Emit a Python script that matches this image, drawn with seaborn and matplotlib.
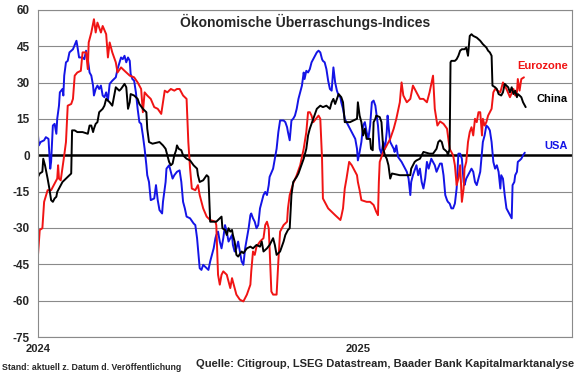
import pandas as pd
import matplotlib
matplotlib.use("Agg")
import matplotlib.pyplot as plt
import seaborn as sns

# Tage seit 01.01.2024 und Indexwerte
usa_days = [0, 1, 3, 7, 9, 12, 14, 15, 17, 19, 21, 22, 24, 25, 28, 29, 30, 32, 34, 36,
            40, 44, 45, 47, 51, 53, 55, 57, 59, 61, 63, 64, 66, 68, 70, 72, 74, 76, 78, 80,
            82, 85, 89, 91, 95, 97, 99, 101, 103, 105, 106, 108, 110, 112, 114, 116, 118, 120, 122, 124,
            125, 127, 129, 133, 135, 137, 139, 142, 143, 146, 147, 150, 152, 154, 156,
            159, 162, 164, 166, 168, 170, 174, 178, 180, 182, 183, 185, 187, 189, 193,
            195, 197, 199, 201, 203, 204, 206, 208, 210, 212, 214, 216, 218, 222, 223,
            225, 227, 229, 231, 233, 235, 237, 239, 241, 243, 244, 246, 248, 250, 252,
            254, 256, 258, 260, 262, 264, 265, 269, 271, 273, 275, 277, 281, 283, 285,
            286, 288, 290, 292, 294, 296, 298, 300, 302, 304, 305, 307, 309, 311,
            313, 317, 319, 321, 323, 325, 326, 328, 330, 332, 334, 336, 338, 340, 342,
            344, 346, 347, 349, 351, 353, 357, 361, 363, 365, 366, 368, 370, 372, 374,
            376, 378, 380, 382, 384, 386, 387, 389, 391, 393, 395, 397, 399, 400, 401,
            403, 407, 408, 410, 412, 416, 420, 422, 424, 426, 427, 429, 433, 435, 437,
            439, 441, 443, 445, 447, 450, 454, 456, 460,
            462, 464, 466, 468, 469, 471, 473, 475, 477, 479, 481, 483, 485, 487, 488,
            490, 492, 494, 496, 498, 500, 502, 504, 506, 508, 509, 511, 513, 515, 517,
            519, 521, 523, 525, 527, 529, 530, 532, 534, 536, 538, 540, 542, 543, 545,
            546, 548, 549, 551, 553, 555, 557]
usa_vals = [8.2, 4.1, 5.5, 6.2, 7.5, 6.8, -5.5, -2.7, 12.3, 13.0, 8.9, 15.1, 20.5, 26.0, 27.4, 24.7, 32.9, 38.4, 39.0, 42.5,
            43.8, 47.3, 45.2, 40.4, 40.4, 39.7, 43.2, 39.7, 34.2, 32.9, 28.8, 24.7, 27.4, 28.8, 27.4, 28.8, 24.7, 24.0, 26.0, 22.6,
            29.5, 30.8, 32.2, 35.6, 40.4, 39.7, 41.1, 38.4, 40.4, 39.0, 33.6, 31.5, 30.8, 26.0, 19.2, 13.7, 13.0, 8.2, 2.7, -4.1,
            -8.2, -11.0, -18.5, -17.8, -12.3, -18.5, -22.6, -24.0, -19.2, -11.0, -5.5, -4.1, -6.8, -9.6, -8.2,
            -6.8, -6.2, -11.0, -19.2, -21.9, -25.3, -26.0, -28.1, -28.8, -34.2, -38.4, -46.6, -47.3, -45.2, -46.6,
            -47.3, -43.8, -41.1, -38.4, -34.2, -32.9, -31.5, -35.6, -38.4, -34.2, -28.8, -31.5, -35.6, -32.9, -37.0,
            -39.7, -38.4, -35.6, -39.7, -43.8, -45.2, -38.4, -34.2, -30.1, -24.7, -24.0, -26.0, -27.4, -30.1, -28.8,
            -21.9, -19.2, -16.4, -15.1, -16.4, -12.3, -8.9, -5.5, -1.4, 2.7, 9.6, 14.4, 14.4, 13.7, 11.6,
            9.6, 6.2, 14.4, 15.1, 16.4, 19.2, 23.3, 26.0, 28.8, 34.2, 31.5, 34.9, 34.2, 35.6,
            38.4, 41.1, 42.5, 43.2, 42.5, 39.7, 39.0, 38.4, 35.6, 30.8, 27.4, 26.7, 36.3, 30.1, 26.7,
            24.7, 24.0, 21.9, 19.2, 15.1, 13.7, 11.0, 8.2, 6.8, 2.7, -2.1, 1.4, 5.5, 12.3, 13.7,
            9.6, 6.8, 12.3, 21.9, 22.6, 20.5, 17.8, 12.3, 2.7, 0.7, 5.5, 2.7, 9.6, 16.4, 12.3,
            5.5, 2.7, 1.4, 4.1, -0.7, -2.7, -5.5, -6.8, -9.6, -16.4, -11.0, -8.2, -4.1, -8.2, -5.5,
            -11.0, -13.7, -9.6, -2.7, -5.5, -1.4, -4.1, -6.8, -3.4,
            -3.4, -8.2, -16.4, -18.5, -19.2, -19.9, -21.9, -21.9, -19.9, -13.7, 0.7, 0.7, -1.4, -11.0, -12.3,
            -9.6, -8.2, -6.8, -5.5, -6.8, -11.0, -12.3, -9.6, -6.8, 1.4, 5.5, 8.2, 12.3, 11.6, 10.3,
            5.5, -2.7, -5.5, -4.1, -6.8, -13.7, -8.2, -9.6, -16.4, -21.9, -23.3, -24.7, -26.0, -12.3, -11.0,
            -8.2, -6.8, -2.7, -2.1, -1.4, 0.0, 1.1]

ez_days = [0, 2, 5, 7, 11, 15, 19, 22, 23, 24, 26, 30, 32, 34, 38, 40, 42, 45, 49, 51,
           55, 57, 58, 61, 64, 66, 68, 72, 74, 78, 80, 82, 85, 89, 91, 95, 99, 105, 110, 114,
           118, 120, 122, 125, 129, 133, 137, 141, 143, 145, 148, 152, 156,
           159, 162, 166, 170, 172, 174, 176, 180, 183, 185, 187, 189, 193, 197, 203,
           204, 206, 208, 210, 212, 216, 220, 222, 223, 227, 231, 235, 239, 243, 244,
           246, 248, 250, 254, 258, 260, 262, 264, 265, 267, 269, 273, 275, 277, 281,
           285, 286, 288, 292, 296, 300, 304, 307, 309,
           311, 313, 315, 321, 323, 325, 326, 328, 332, 336, 340, 344, 346, 347, 349,
           351, 353, 356, 359, 361, 365, 366, 368, 370, 376, 380, 384, 387, 389, 390,
           391, 395, 399, 403, 407, 410, 414, 416, 418, 422, 426, 429, 433, 437, 441,
           445, 448, 452, 454, 457, 460,
           464, 468, 471, 475, 477, 479, 481, 483, 485, 487, 488, 490, 492, 494, 496,
           498, 500, 502, 504, 506, 508, 509, 511, 513, 515, 517, 519, 521, 523, 529,
           532, 536, 540, 544, 546, 548, 549, 551, 553, 556]
ez_vals = [-41.1, -30.8, -30.1, -19.2, -14.4, -14.4, -11.6, -9.6, -4.1, -9.6, -10.3, 0.0, 5.5, 20.5, 21.2, 23.3, 32.9, 34.2, 34.9, 42.5,
           42.5, 35.6, 46.6, 50.7, 56.2, 50.7, 54.8, 50.7, 53.4, 50.0, 40.4, 46.6, 42.5, 38.4, 34.2, 36.3, 34.9, 32.9, 32.2, 30.1,
           27.4, 17.8, 26.0, 24.7, 23.3, 19.9, 19.2, 17.1, 21.9, 26.7, 26.0, 27.4, 26.7,
           27.4, 27.4, 24.7, 23.3, 5.5, -5.5, -13.7, -14.4, -12.3, -16.4, -19.2, -21.9, -25.3, -26.7, -27.4,
           -28.8, -49.3, -53.4, -49.3, -47.9, -49.3, -54.8, -50.7, -52.1, -57.5, -59.6, -60.3, -57.5, -53.4, -47.9,
           -39.7, -41.1, -37.7, -35.6, -34.2, -28.8, -27.4, -30.1, -38.4, -56.2, -57.5, -57.5, -43.8, -31.5, -28.8,
           -27.4, -21.9, -16.4, -11.6, -8.2, -4.1, 2.7, 9.6, 17.8,
           17.8, 16.4, 13.7, 16.4, 15.1, -1.4, -17.8, -19.2, -21.9, -23.3, -24.7, -26.0, -26.7, -25.3, -21.9,
           -13.7, -9.6, -2.7, -4.1, -5.5, -8.2, -11.0, -14.4, -18.5, -19.2, -19.2, -20.5, -23.3, -24.7, -11.0,
           -2.7, 1.4, 4.1, 6.8, 11.0, 15.1, 21.9, 30.1, 24.7, 21.9, 23.3, 28.8, 26.0, 23.3, 23.3,
           21.9, 26.0, 32.9, 19.2, 12.3, 14.0,
           13.0, 11.0, 2.7, 0.0, -4.1, -12.3, -9.6, -4.1, -19.2, -13.7, -5.5, -2.7, 5.5, 9.6, 11.6,
           8.2, 15.1, 13.7, 17.8, 17.8, 8.2, 15.1, 12.3, 13.7, 16.4, 17.8, 19.2, 26.0, 27.4, 26.0,
           30.1, 27.4, 24.0, 27.4, 24.7, 26.0, 31.5, 26.7, 31.5, 32.2]

cn_days = [0, 2, 5, 6, 8, 11, 13, 15, 17, 19, 21, 22, 24, 26, 28, 32, 36, 38, 39, 42,
           45, 51, 57, 59, 61, 63, 64, 66, 68, 70, 74, 76, 78, 82, 85, 89, 93, 95, 99, 101,
           103, 105, 106, 110, 114, 116, 120, 124, 125, 127, 131, 139, 143, 146, 150, 152, 154, 156, 158,
           159, 161, 164, 166, 170, 174, 178, 182, 183, 185, 189, 193, 195, 197, 204,
           208, 210, 211, 214, 216, 218, 220, 222, 223, 225, 227, 229, 233, 235, 239,
           243, 246, 250, 254, 256, 258, 262, 265, 267, 269, 271, 273, 277, 281, 283,
           285, 286, 288, 290, 292, 296, 298, 300,
           304, 307, 309, 311, 315, 319, 323, 326, 330, 334, 336, 338, 340, 342, 344,
           347, 349, 351, 357, 365, 366, 368, 370, 372, 374, 376, 380, 381, 383, 384,
           386, 387, 391, 393, 395, 397, 399, 401, 403, 405, 414, 426, 427, 429, 431,
           433, 437, 441, 448, 452, 456, 458, 460,
           462, 464, 466, 468, 469, 471, 472, 473, 477, 479, 481, 483, 485, 488, 490,
           492, 494, 496, 498, 502, 506, 509, 513, 515, 517, 519, 520, 523, 525, 527,
           530, 532, 534, 536, 538, 540, 542, 544, 546, 548, 549, 551, 553, 555, 558]
cn_vals = [-8.9, -7.5, -6.8, -1.4, -4.1, -9.6, -13.7, -18.5, -19.2, -17.8, -17.1, -15.1, -13.7, -12.3, -11.0, -9.6, -8.2, -7.5, 10.3, 10.3,
           9.6, 9.6, 8.9, 12.3, 12.3, 9.6, 11.0, 13.0, 13.7, 17.8, 19.2, 20.5, 23.3, 21.9, 20.5, 28.1, 26.7, 27.4, 29.5, 28.1,
           19.2, 21.9, 25.3, 24.7, 23.3, 21.2, 19.2, 17.8, 11.0, 5.5, 4.8, 5.5, 4.1, 2.7, -2.7, -4.1, -3.4, 0.0, 2.1,
           4.1, 2.7, 2.1, 0.0, -1.4, -2.1, -4.1, -5.5, -8.2, -11.0, -10.3, -8.2, -8.9, -27.4, -27.4,
           -26.0, -25.3, -30.1, -30.8, -32.9, -30.1, -31.5, -30.8, -32.9, -35.6, -41.1, -41.8, -39.7, -40.4, -38.4,
           -37.7, -38.4, -37.0, -37.7, -35.6, -39.7, -38.4, -37.0, -35.6, -34.2, -37.0, -41.1, -39.7, -35.6, -32.9,
           -31.5, -30.8, -30.1, -16.4, -11.0, -8.9, -7.5, -5.5,
           -1.4, 2.7, 8.2, 11.0, 15.1, 19.2, 20.5, 19.9, 20.5, 19.2, 21.9, 23.3, 21.2, 23.3, 25.3,
           24.0, 21.9, 13.7, 13.7, 15.1, 21.9, 16.4, 13.7, 8.2, 11.0, 6.8, 6.8, 2.7, 2.1, 13.7,
           15.1, 16.4, 15.8, 13.7, 2.7, 0.0, -1.4, -4.1, -9.6, -7.5, -8.2, -8.2, -5.5, -4.1, -2.7,
           -2.1, -1.4, 1.4, 0.7, 0.7, 2.7, 5.5, 6.2,
           5.5, 2.7, 2.1, 1.4, 0.0, 2.7, 38.4, 39.0, 39.0, 39.7, 41.1, 43.2, 43.8, 43.8, 44.5,
           41.1, 49.3, 50.0, 49.3, 48.6, 47.3, 45.9, 44.5, 43.2, 42.5, 41.1, 28.8, 28.1, 27.4, 25.3,
           24.7, 26.0, 29.5, 28.8, 28.1, 26.0, 28.1, 25.3, 26.7, 24.0, 25.3, 24.7, 24.0, 21.9, 19.9]

series_names = ["USA", "Eurozone", "China"]
series_colors = {"USA": "#1414e6", "Eurozone": "#f01414", "China": "#000000"}
y_ticks = list(range(-75, 61, 15))
x_tick_labels = ["2024", "2025"]

start = pd.Timestamp("2024-01-01")
frames = []
for name, d, v in zip(series_names, [usa_days, ez_days, cn_days], [usa_vals, ez_vals, cn_vals]):
    frames.append(pd.DataFrame({"Datum": start + pd.to_timedelta(d, unit="D"),
                                "Wert": v, "Index": name}))
df = pd.concat(frames, ignore_index=True)

sns.set_style("white")
plt.rcParams["font.family"] = ["Liberation Sans", "DejaVu Sans"]
plt.rcParams["font.weight"] = "bold"
plt.rcParams["axes.unicode_minus"] = False

fig = plt.figure(figsize=(5.8, 3.75), dpi=100)
ax = fig.add_axes([38 / 580, 1 - 337 / 375, 534 / 580, 327 / 375])

ax.axhline(0, color="black", lw=1.8, zorder=1.5)
sns.lineplot(data=df, x="Datum", y="Wert", hue="Index", hue_order=series_names,
             palette=series_colors, estimator=None, sort=False, legend=False,
             linewidth=1.4, ax=ax)

ax.set_ylim(-75, 60)
ax.set_yticks(y_ticks)
ax.set_xlim(start, start + pd.Timedelta(days=611))
ax.set_xticks([pd.Timestamp(y + "-01-01") for y in x_tick_labels])
ax.set_xticklabels(x_tick_labels)
ax.set_xlabel("")
ax.set_ylabel("")

ax.yaxis.grid(True, color="#8a8a8a", lw=0.8)
ax.xaxis.grid(False)
ax.set_axisbelow(True)
for s in ax.spines.values():
    s.set_color("#8a8a8a")
    s.set_linewidth(0.8)
ax.tick_params(axis="x", length=3, color="#8a8a8a", pad=2, labelsize=8)
ax.tick_params(axis="y", length=0, pad=6, labelsize=8.5)

ax.text(0.5, 0.963, "Ökonomische Überraschungs-Indices", transform=ax.transAxes,
        ha="center", va="center", fontsize=10, fontweight="bold")
label_y = {"Eurozone": 0.829, "China": 0.728, "USA": 0.584}
for name in series_names:
    ax.text(0.9925, label_y[name], name, transform=ax.transAxes, ha="right", va="center",
            fontsize=8, fontweight="bold", color=series_colors[name])

fig.text(2 / 580, 1 - 368 / 375, "Stand: aktuell z. Datum d. Veröffentlichung",
         ha="left", va="center", fontsize=6.3, fontweight="bold")
fig.text(574 / 580, 1 - 364 / 375, "Quelle: Citigroup, LSEG Datastream, Baader Bank Kapitalmarktanalyse",
         ha="right", va="center", fontsize=8, fontweight="bold")

fig.savefig("out.png", dpi=100)
